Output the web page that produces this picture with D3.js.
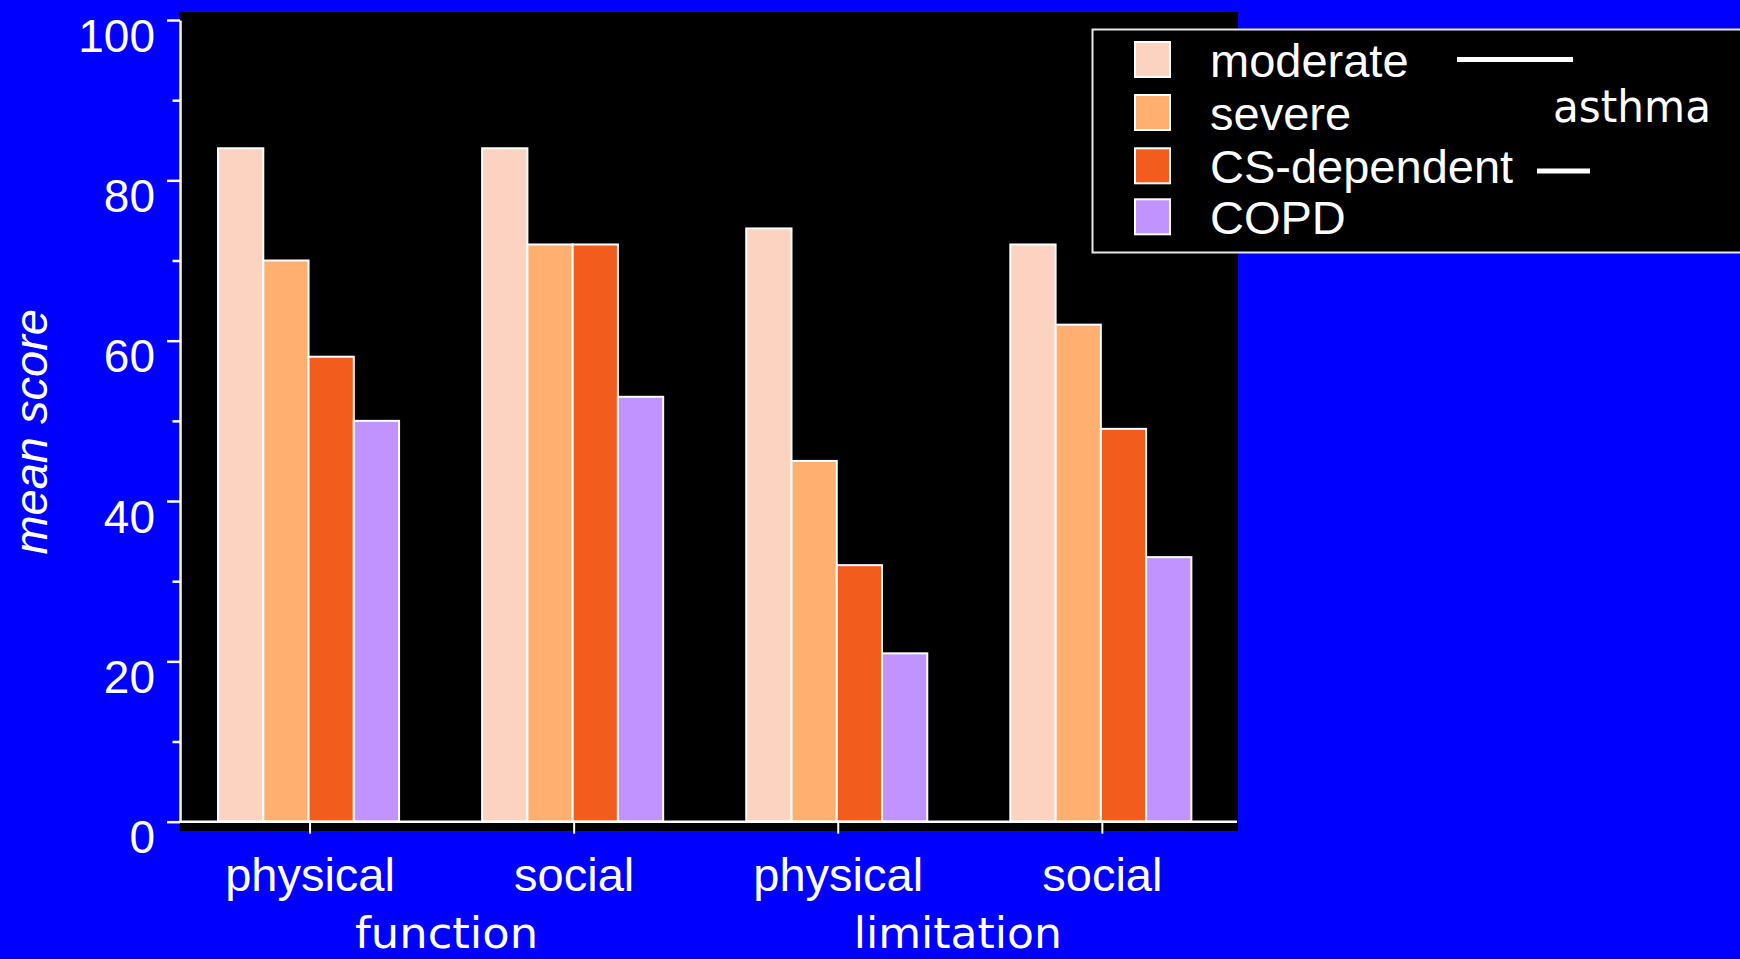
<!DOCTYPE html>
<html>
<head>
<meta charset="utf-8">
<script src="https://cdn.jsdelivr.net/npm/d3@7"></script>
<style>
  html, body { margin: 0; padding: 0; background: #0000ff; }
  svg { display: block; }
  .sans { font-family: "Liberation Sans", Arial, Helvetica, sans-serif; fill: #fff; }
  .hand { font-family: "DejaVu Sans", sans-serif; fill: #fff; }
</style>
</head>
<body>
<svg id="chart" width="1740" height="959"></svg>
<script>
// Mean scores by domain and patient group
const categories = ["physical", "social", "physical", "social"];
const domains = ["function", "limitation"];
const seriesNames = ["moderate", "severe", "CS-dependent", "COPD"];
const moderate = [84, 84, 74, 72];
const severe = [70, 72, 45, 62];
const csDependent = [58, 72, 32, 49];
const copd = [50, 53, 21, 33];
const seriesColors = ["#fcd2c0", "#ffb071", "#f25c1c", "#c193ff"];
const majorTicks = [0, 20, 40, 60, 80, 100];
const minorTicks = [10, 30, 50, 70, 90];

const seriesValues = [moderate, severe, csDependent, copd];

const svg = d3.select("#chart");
const W = 1740, H = 959;

svg.append("rect").attr("width", W).attr("height", H).attr("fill", "#0000ff");

// plot panel
const panel = { left: 179, right: 1238, top: 12, bottom: 831 };
svg.append("rect")
  .attr("x", panel.left).attr("y", panel.top)
  .attr("width", panel.right - panel.left)
  .attr("height", panel.bottom - panel.top)
  .attr("fill", "#000");

const y = d3.scaleLinear().domain([0, 100]).range([821.7, 20]);

const x0 = d3.scaleBand()
  .domain(d3.range(categories.length))
  .range([176.5, 1232.9])
  .paddingInner(0.3145)
  .paddingOuter(0.15725);

const x1 = d3.scaleBand()
  .domain(d3.range(seriesNames.length))
  .range([0, x0.bandwidth()]);

// bars
const groups = svg.append("g").selectAll("g")
  .data(categories.map((c, i) => i))
  .join("g")
  .attr("transform", i => `translate(${x0(i)},0)`);

groups.selectAll("rect")
  .data(i => seriesValues.map((vals, s) => ({ s, v: vals[i] })))
  .join("rect")
  .attr("x", d => x1(d.s))
  .attr("y", d => y(d.v))
  .attr("width", x1.bandwidth())
  .attr("height", d => y(0) - y(d.v))
  .attr("fill", d => seriesColors[d.s])
  .attr("stroke", "#fff")
  .attr("stroke-width", 2);

// y axis: major ticks with labels
const yAxis = svg.append("g")
  .attr("transform", "translate(180,0)")
  .call(d3.axisLeft(y).tickValues(majorTicks).tickSize(13).tickSizeOuter(0).tickPadding(12));
yAxis.select(".domain").attr("stroke", "#fff").attr("stroke-width", 2.5);
yAxis.selectAll(".tick line").attr("stroke", "#fff").attr("stroke-width", 2.5);
yAxis.selectAll(".tick text")
  .attr("class", "sans")
  .attr("fill", "#fff")
  .attr("font-size", 46)
  .attr("dy", "0.85em")
  .attr("y", -8);

// y axis: minor ticks
const yMinor = svg.append("g")
  .attr("transform", "translate(180,0)")
  .call(d3.axisLeft(y).tickValues(minorTicks).tickSize(7.5).tickFormat(""));
yMinor.select(".domain").remove();
yMinor.selectAll(".tick line").attr("stroke", "#fff").attr("stroke-width", 2.5);

// x axis
svg.append("line")
  .attr("x1", 179).attr("x2", 1237)
  .attr("y1", y(0)).attr("y2", y(0))
  .attr("stroke", "#fff").attr("stroke-width", 2.5);

const xAxis = svg.append("g")
  .attr("transform", `translate(1.5,${y(0)})`)
  .call(d3.axisBottom(x0).tickSize(12).tickSizeOuter(0).tickFormat(i => categories[i]).tickPadding(24));
xAxis.select(".domain").remove();
xAxis.selectAll(".tick line").attr("stroke", "#fff").attr("stroke-width", 2);
xAxis.selectAll(".tick text")
  .attr("class", "sans")
  .attr("fill", "#fff")
  .attr("font-size", 47)
  .attr("dy", "0.71em");

// domain labels under each pair of categories
const domainX = [
  (x0(0) + x0(1)) / 2 + x0.bandwidth() / 2 + 6,
  (x0(2) + x0(3)) / 2 + x0.bandwidth() / 2 - 11
];
const domainWidths = [183, 208];
svg.selectAll("text.domain-label")
  .data(domains)
  .join("text")
  .attr("class", "hand domain-label")
  .attr("x", (d, i) => domainX[i] - domainWidths[i] / 2)
  .attr("y", 948)
  .attr("font-size", 42)
  .attr("textLength", (d, i) => domainWidths[i])
  .attr("lengthAdjust", "spacingAndGlyphs")
  .text(d => d);

// y axis title
svg.append("text")
  .attr("class", "sans")
  .attr("transform", "translate(46.5,431.8) rotate(-90)")
  .attr("text-anchor", "middle")
  .attr("font-size", 47)
  .attr("font-style", "italic")
  .text("mean score");

// legend
const legend = svg.append("g");
legend.append("rect")
  .attr("x", 1092.5).attr("y", 29.5)
  .attr("width", 700).attr("height", 223)
  .attr("fill", "#000")
  .attr("stroke", "#e8e8e8")
  .attr("stroke-width", 2);

const rowY = [60, 113, 166.3, 217.3];
const items = legend.selectAll("g.item")
  .data(seriesNames)
  .join("g")
  .attr("class", "item")
  .attr("transform", (d, i) => `translate(1135,${rowY[i]})`);

items.append("rect")
  .attr("x", 0).attr("y", -18)
  .attr("width", 35).attr("height", 35)
  .attr("fill", (d, i) => seriesColors[i])
  .attr("stroke", "#fff")
  .attr("stroke-width", 2);

items.append("text")
  .attr("class", "sans")
  .attr("x", 75)
  .attr("y", 16.5)
  .attr("font-size", 47)
  .text(d => d);

// bracket lines grouping the asthma severities
legend.append("line")
  .attr("x1", 1457).attr("x2", 1573)
  .attr("y1", 59.5).attr("y2", 59.5)
  .attr("stroke", "#fff").attr("stroke-width", 5);
legend.append("line")
  .attr("x1", 1537).attr("x2", 1590)
  .attr("y1", 171).attr("y2", 171)
  .attr("stroke", "#fff").attr("stroke-width", 5);

legend.append("text")
  .attr("class", "hand")
  .attr("x", 1553)
  .attr("y", 121.7)
  .attr("font-size", 44)
  .attr("textLength", 158)
  .attr("lengthAdjust", "spacingAndGlyphs")
  .text("asthma");
</script>
</body>
</html>
